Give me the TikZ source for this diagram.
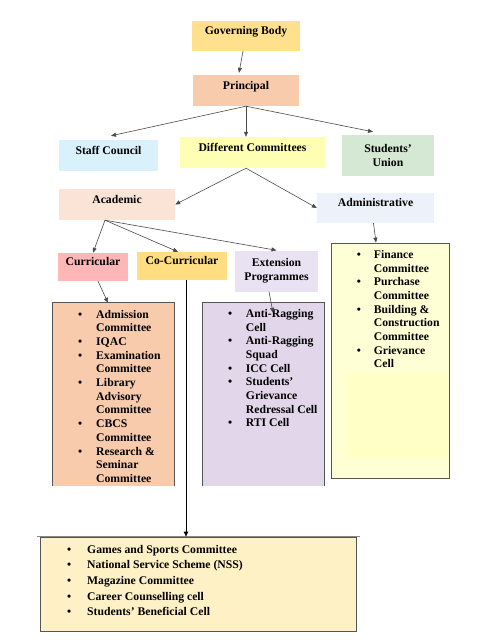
\documentclass[tikz,border=0pt]{standalone}
\usepackage{fontspec}
\setmainfont{Liberation Serif}
\usepackage{tikz}
\usetikzlibrary{positioning,arrows.meta}
\definecolor{govfill}{HTML}{FFE08C}
\definecolor{prinfill}{HTML}{F8CBAD}
\definecolor{stafffill}{HTML}{D8F1FB}
\definecolor{difffill}{HTML}{FFFFB3}
\definecolor{unionfill}{HTML}{D5E8D4}
\definecolor{acadfill}{HTML}{FBE3D6}
\definecolor{adminfill}{HTML}{EDF1F9}
\definecolor{currfill}{HTML}{FFB6B6}
\definecolor{cocurrfill}{HTML}{FFDD80}
\definecolor{extfill}{HTML}{E9E2F2}
\definecolor{extlistfill}{HTML}{E2D7EA}
\definecolor{admlistfill}{HTML}{FFFFD6}
\definecolor{adminner}{HTML}{FFFFC6}
\definecolor{colistfill}{HTML}{FFF1C6}
\definecolor{lstline}{HTML}{555555}
\definecolor{linkgray}{HTML}{4A4A4A}
\newcommand{\orgfont}{\bfseries\fontsize{11.7}{13.7}\selectfont}

\begin{document}
\begin{tikzpicture}[x=1pt, y=-1pt,
      box/.style={rectangle, inner sep=0pt, font=\orgfont},
      one/.style={box, text height=9pt, text depth=11.4pt},
      two/.style={box, align=center},
      lst/.style={rectangle, inner sep=0pt},
      txt/.style={anchor=base west, inner sep=0pt, font=\orgfont},
      edge/.style={draw=lstline, line width=0.8pt},
      link/.style={-{Triangle[length=5pt,width=4pt]}, draw=linkgray, line width=0.6pt},
    ]
    \useasboundingbox (0,0) rectangle (495,640);

    \node[one, fill=govfill, minimum width=108pt, minimum height=30pt] (gov) at (246,36) {Governing Body};
    \node[one, fill=prinfill, minimum width=106pt, minimum height=31pt] (prin) at (246,90.5) {Principal};
    \node[one, fill=stafffill, minimum width=99pt, minimum height=31pt] (staff) at (108.5,155.5) {Staff Council};
    \node[one, fill=difffill, minimum width=145pt, minimum height=31pt] (diff) at (252.5,152.5) {Different Committees};
    \node[two, fill=unionfill, minimum width=92pt, minimum height=41pt] (union) at (388,155.5) {Students’\\Union};
    \node[one, fill=acadfill, minimum width=116pt, minimum height=31pt] (acad) at (117,204.5) {Academic};
    \node[one, fill=adminfill, minimum width=117pt, minimum height=30pt] (admin) at (375.5,208) {Administrative};
    \node[one, fill=currfill, minimum width=70pt, minimum height=28pt] (curr) at (93,267) {Curricular};
    \node[one, fill=cocurrfill, minimum width=90pt, minimum height=28pt] (cocurr) at (182,266) {Co-Curricular};
    \node[two, fill=extfill, minimum width=83pt, minimum height=41pt] (ext) at (276.5,271) {Extension\\Programmes};

    % list boxes
    \node[lst, fill=prinfill, minimum width=121pt, minimum height=183pt] (currlist) at (113.5,394.5) {};
    \draw[edge] (currlist.south west) -- (currlist.north west) -- (currlist.north east) -- (currlist.south east);
    \node[lst, fill=extlistfill, minimum width=121pt, minimum height=183pt] (extlist) at (263.5,394.5) {};
    \draw[edge] (extlist.south west) -- (extlist.north west) -- (extlist.north east) -- (extlist.south east);
    \node[lst, draw=lstline, line width=0.8pt, fill=admlistfill, minimum width=118pt, minimum height=235pt] (admlist) at (390,360.5) {};
    \fill[adminner] (346,374) rectangle (447,459);
    \node[lst, draw=lstline, line width=0.8pt, fill=colistfill, minimum width=316pt, minimum height=94pt] (colist) at (198,584) {};
    \draw[lstline!70, line width=0.8pt] ([xshift=-3pt]colist.north west) -- ([xshift=4pt]colist.north east);

    \node[txt] (currtxt) at (78,318) {\begin{tabular}[t]{@{}p{18pt}@{}l@{}}
      \textbullet & Admission\\ & Committee\\
      \textbullet & IQAC\\
      \textbullet & Examination\\ & Committee\\
      \textbullet & Library\\ & Advisory\\ & Committee\\
      \textbullet & CBCS\\ & Committee\\
      \textbullet & Research \&\\ & Seminar\\ & Committee
    \end{tabular}};
    \node[txt] (exttxt) at (228,317.3) {\begin{tabular}[t]{@{}p{17.7pt}@{}l@{}}
      \textbullet & Anti-Ragging\\ & Cell\\
      \textbullet & Anti-Ragging\\ & Squad\\
      \textbullet & ICC Cell\\
      \textbullet & Students’\\ & Grievance\\ & Redressal Cell\\
      \textbullet & RTI Cell
    \end{tabular}};
    \node[txt] (admtxt) at (356.7,258.3) {\begin{tabular}[t]{@{}p{17pt}@{}l@{}}
      \textbullet & Finance\\ & Committee\\
      \textbullet & Purchase\\ & Committee\\
      \textbullet & Building \&\\ & Construction\\ & Committee\\
      \textbullet & Grievance\\ & Cell
    \end{tabular}};
    \node[txt, font=\bfseries\fontsize{11.7}{15.7}\selectfont] (cotxt) at (67,553) {\begin{tabular}[t]{@{}p{20pt}@{}l@{}}
      \textbullet & Games and Sports Committee\\
      \textbullet & National Service Scheme (NSS)\\
      \textbullet & Magazine Committee\\
      \textbullet & Career Counselling cell\\
      \textbullet & Students’ Beneficial Cell
    \end{tabular}};

    % connectors
    \draw[link] ([xshift=-3pt]gov.south) -- ([xshift=-7pt,yshift=2pt]prin.north);
    \draw[link] (prin.south) -- ([xshift=2.5pt,yshift=4pt]staff.north);
    \draw[link] (prin.south) -- ([xshift=-6.5pt]diff.north);
    \draw[link] (prin.south) -- ([xshift=-15pt,yshift=3pt]union.north);
    \draw[link] ([xshift=-6.5pt]diff.south) -- (acad.east);
    \draw[link] ([xshift=-6.5pt]diff.south) -- (admin.west);
    \coordinate (acb) at ([xshift=-12pt]acad.south);
    \draw[link] (acb) -- (curr.north);
    \draw[link] (acb) -- ([xshift=-4pt]cocurr.north);
    \draw[link] (acb) -- (ext.north);
    \draw[link] ([xshift=-2pt]admin.south) -- ([xshift=-14pt]admlist.north);
    \draw[link] ([xshift=5pt]curr.south) -- ([xshift=-5.5pt]currlist.north);
    \draw[link] ([xshift=-7.5pt]ext.south) -- ([xshift=9.5pt,yshift=-10pt]extlist.north);
    \draw[-{Triangle[length=5pt,width=4.5pt]}, line width=0.9pt] ([xshift=4pt]cocurr.south) -- ([xshift=4pt]cocurr.south |- colist.north);
  \end{tikzpicture}
\end{document}
